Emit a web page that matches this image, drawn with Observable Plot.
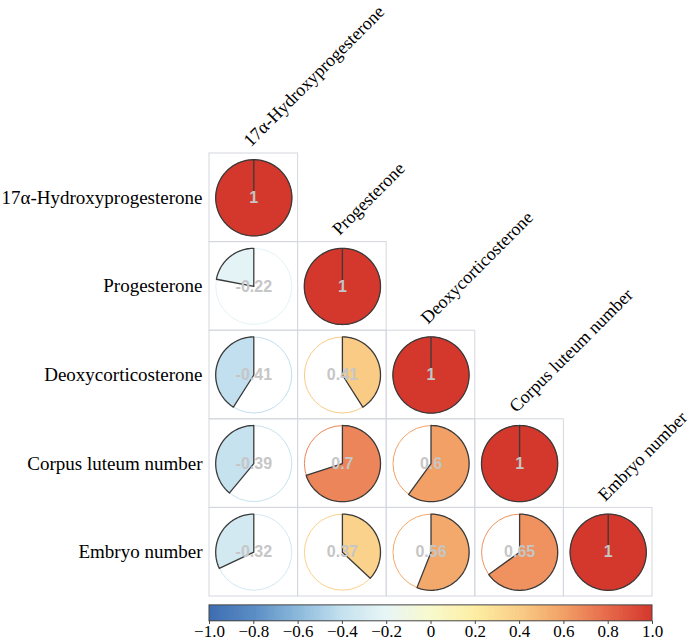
<!DOCTYPE html>
<html>
<head>
<meta charset="utf-8">
<script src="https://cdn.jsdelivr.net/npm/d3@7"></script>
<script src="https://cdn.jsdelivr.net/npm/@observablehq/plot@0.6"></script>
<style>
  body { margin: 0; background: #fff; }
  #chart svg { overflow: visible; }
</style>
</head>
<body>
<div id="chart"></div>
<script>
// ---- data ----
const variables = [
  "17α-Hydroxyprogesterone",
  "Progesterone",
  "Deoxycorticosterone",
  "Corpus luteum number",
  "Embryo number"
];
// lower triangle of the correlation matrix, row by row
const correlations = [
  [1],
  [-0.22, 1],
  [-0.41, 0.41, 1],
  [-0.39, 0.70, 0.60, 1],
  [-0.32, 0.37, 0.56, 0.65, 1]
];
const colorTicks = [-1, -0.8, -0.6, -0.4, -0.2, 0, 0.2, 0.4, 0.6, 0.8, 1];
// colour of the legend ramp at each tick value
const paletteColors = ["#3d6db2", "#5a8cc4", "#8bb9db", "#c4e1ef", "#e8f5f6", "#f8f9cc", "#fdeea4", "#f9cd86", "#f2a066", "#e6694b", "#d4372c"];

// ---- derived tables ----
const cells = [];
correlations.forEach((row, i) => row.forEach((value, j) => cells.push({row: i, col: j, value, id: `${i}-${j}`})));

const R = 0.43; // pie radius in cell units
const piePoints = [];
for (const c of cells) {
  const cx = c.col + 0.5, cy = c.row + 0.5;
  const sweep = 2 * Math.PI * c.value; // positive: clockwise, negative: counter-clockwise
  const n = Math.max(2, Math.ceil(Math.abs(c.value) * 160));
  piePoints.push({id: c.id, value: c.value, x: cx, y: cy});
  for (let k = 0; k <= n; k++) {
    const a = sweep * k / n;
    piePoints.push({id: c.id, value: c.value, x: cx + R * Math.sin(a), y: cy - R * Math.cos(a)});
  }
  piePoints.push({id: c.id, value: c.value, x: cx, y: cy});
}

const barX = v => (v + 1) / 2 * variables.length;
const rampValues = d3.range(-1, 1, 0.01);
const barTop = 5.10, barBottom = 5.28;

const fmtCell = v => (v === 1 ? "1" : String(v));
const fmtTick = t => (t === 0 ? "0" : d3.format(".1f")(t));
const serif = "Liberation Serif, Times New Roman, serif";

const chart = Plot.plot({
  width: 700,
  height: 641,
  marginLeft: 209,
  marginRight: 48,
  marginTop: 153,
  marginBottom: 45,
  x: {domain: [0, variables.length], axis: null},
  y: {domain: [0, variables.length], reverse: true, axis: null},
  color: {type: "linear", domain: colorTicks, range: paletteColors, interpolate: "rgb"},
  style: {background: "#fff"},
  marks: [
    // grid cells
    Plot.rect(cells, {x1: "col", x2: d => d.col + 1, y1: "row", y2: d => d.row + 1, fill: "none", stroke: "#d4d7de", strokeWidth: 1}),
    // faint outline circles
    Plot.dot(cells, {x: d => d.col + 0.5, y: d => d.row + 0.5, r: 38, fill: "white", stroke: "value", strokeWidth: 1}),
    // pie slices
    Plot.line(piePoints, {x: "x", y: "y", z: "id", fill: "value", stroke: "#3a3a3a", strokeWidth: 1.3, curve: "linear", strokeLinejoin: "round"}),
    // coefficient labels
    Plot.text(cells, {x: d => d.col + 0.5, y: d => d.row + 0.5, text: d => fmtCell(d.value), fill: "#c6c6c6", fontWeight: "bold", fontSize: 16, fontFamily: "Liberation Sans, Arial, sans-serif"}),
    // row labels
    Plot.text(variables, {x: 0, y: (d, i) => i + 0.5, text: d => d, textAnchor: "end", dx: -7, fontSize: 19, fontFamily: serif, fill: "#000"}),
    // column labels
    Plot.text(variables, {x: (d, i) => i + 0.5, y: (d, i) => i, text: d => d, textAnchor: "start", lineAnchor: "bottom", rotate: -45, dx: -3, dy: -6, fontSize: 18, fontFamily: serif, fill: "#000"}),
    // colour bar
    Plot.rect(rampValues, {x1: v => barX(v), x2: v => barX(Math.min(1, v + 0.02)), y1: barTop, y2: barBottom, fill: v => v + 0.005, shapeRendering: "crispEdges"}),
    Plot.rect([0], {x1: barX(-1), x2: barX(1), y1: barTop, y2: barBottom, fill: "none", stroke: "#444", strokeWidth: 1}),
    Plot.ruleX(colorTicks, {x: t => barX(t), y1: barBottom, y2: barBottom + 0.035, stroke: "#444"}),
    Plot.text(colorTicks, {x: t => barX(t), y: 5.40, text: fmtTick, fontSize: 17, fontFamily: serif, fill: "#000"})
  ]
});
document.getElementById("chart").appendChild(chart);
</script>
</body>
</html>
